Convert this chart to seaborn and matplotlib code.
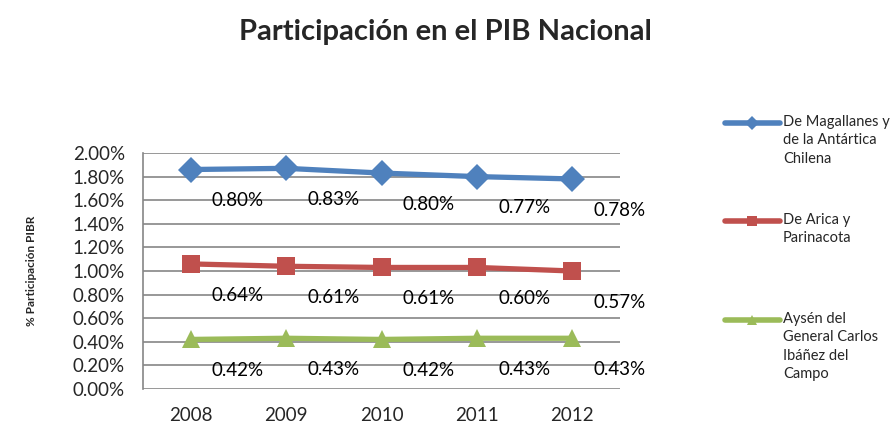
import numpy as np
import pandas as pd
import matplotlib
matplotlib.use("Agg")
import matplotlib.pyplot as plt
from matplotlib.lines import Line2D
import seaborn as sns

years = [2008, 2009, 2010, 2011, 2012]
magallanes = [0.80, 0.83, 0.80, 0.77, 0.78]
arica = [0.64, 0.61, 0.61, 0.60, 0.57]
aysen = [0.42, 0.43, 0.42, 0.43, 0.43]
series_names = ["De Magallanes y\nde la Antártica\nChilena",
                "De Arica y\nParinacota",
                "Aysén del\nGeneral Carlos\nIbáñez del\nCampo"]
colors = ["#4F81BD", "#C0504D", "#9BBB59"]
markers = ["D", "s", "^"]
msizes = [13, 13, 13]

sns.set_theme(style="white")
plt.rcParams['font.family'] = ['Lato', 'DejaVu Sans']

# stacked line chart (as in the original): cumulative values
stack_order = [aysen, arica, magallanes]
cum = np.cumsum(np.array(stack_order), axis=0)
stacked = {series_names[2]: cum[0], series_names[1]: cum[1], series_names[0]: cum[2]}
raw = {series_names[2]: aysen, series_names[1]: arica, series_names[0]: magallanes}

rows = []
for name in series_names:
    for y, v in zip(years, stacked[name]):
        rows.append({"year": y, "value": v, "serie": name})
df = pd.DataFrame(rows)

fig = plt.figure(figsize=(8.9, 4.23), dpi=100)
ax = fig.add_axes([143/890, 1-389/423, (620-143)/890, (389-153)/423])

for name, c, m, ms in zip(series_names, colors, markers, msizes):
    sub = df[df["serie"] == name]
    sns.lineplot(data=sub, x="year", y="value", ax=ax, color=c, marker=m,
                 markersize=ms, markeredgewidth=0, linewidth=3.8, legend=False)
    for y, v, r in zip(years, stacked[name], raw[name]):
        ax.annotate(f"{r:.2f}%", (y, v), xytext=(34, -22.5), textcoords="offset points",
                    ha="center", va="center", fontsize=13.5, color="black")

ax.set_xlim(2007.5, 2012.5)
ax.set_ylim(0, 2.0)
ax.set_yticks(np.arange(0, 2.01, 0.2))
ax.set_yticklabels([f"{t:.2f}%" for t in np.arange(0, 2.01, 0.2)], fontsize=13.5)
ax.set_xticks(years)
ax.set_xticklabels([str(y) for y in years], fontsize=13.5)
ax.tick_params(axis="x", length=0, pad=13)
ax.tick_params(axis="y", length=4, direction="out", color="#868686", pad=9)
ax.grid(axis="y", color="#868686", linewidth=1.2)
ax.set_axisbelow(True)
for s in ["top", "right", "bottom"]:
    ax.spines[s].set_visible(False)
ax.spines["left"].set_color("#868686")
ax.spines["left"].set_linewidth(1.2)
ax.set_xlabel("")
ax.set_ylabel("% Participación PIBR", fontsize=8.5, fontweight="bold", labelpad=26)

fig.suptitle("Participación en el PIB Nacional", fontsize=21, fontweight="bold", y=1-32/423, va="center")

# legend (manual, handle aligned to first text line)
leg_y = [123, 221, 320]
for name, c, m, yy in zip(series_names, colors, markers, leg_y):
    fy = 1 - yy/423
    fig.add_artist(Line2D([725/890, 780/890], [fy, fy], transform=fig.transFigure,
                          color=c, linewidth=4))
    fig.add_artist(Line2D([752/890], [fy], transform=fig.transFigure, color=c,
                          marker=m, markersize=7, markeredgewidth=0))
    fig.text(783/890, fy + 8/423, name, fontsize=10.5, va="top", ha="left",
             linespacing=1.4)

fig.savefig("out.png", dpi=100)
